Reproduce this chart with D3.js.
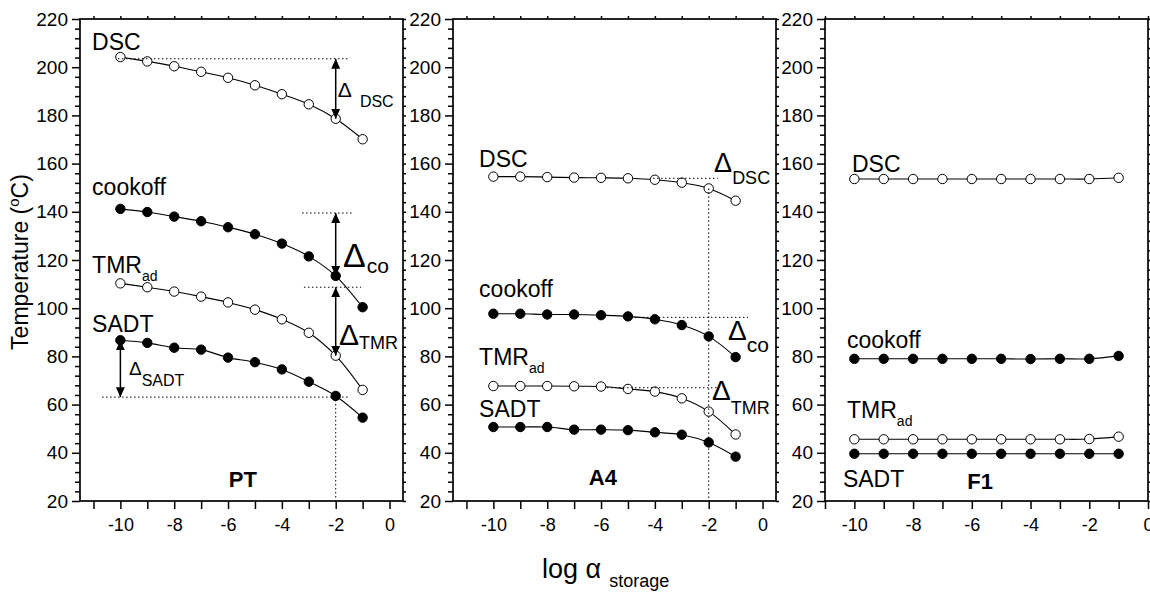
<!DOCTYPE html>
<html>
<head>
<meta charset="utf-8">
<script src="https://cdn.jsdelivr.net/npm/d3@7"></script>
<style>
  body { margin: 0; background: #fff; }
  text { font-family: "Liberation Sans", Arial, sans-serif; fill: #000; }
</style>
</head>
<body>
<script>
// ---------------- data ----------------
const xVals = [-10, -9, -8, -7, -6, -5, -4, -3, -2, -1];

const ptDSC  = [204.2, 202.4, 200.4, 198.1, 195.6, 192.5, 188.8, 184.6, 178.6, 170.1];
const ptCook = [141.2, 139.9, 138.0, 136.1, 133.6, 130.7, 126.8, 121.5, 113.4, 100.4];
const ptTMR  = [110.3, 108.7, 106.9, 104.8, 102.4, 99.4, 95.4, 89.8, 80.3, 66.1];
const ptSADT = [86.7, 85.6, 83.6, 82.8, 79.5, 77.6, 74.6, 69.5, 63.6, 54.6];

const a4DSC  = [154.6, 154.6, 154.4, 154.2, 154.1, 153.9, 153.3, 152.1, 149.7, 144.6];
const a4Cook = [97.7, 97.7, 97.4, 97.4, 97.1, 96.6, 95.4, 93.0, 88.3, 79.7];
const a4TMR  = [67.7, 67.7, 67.7, 67.6, 67.5, 66.5, 65.4, 62.6, 57.1, 47.6];
const a4SADT = [50.7, 50.7, 50.7, 49.6, 49.6, 49.4, 48.5, 47.5, 44.3, 38.4];

const f1DSC  = [153.6, 153.6, 153.6, 153.6, 153.6, 153.6, 153.6, 153.6, 153.6, 154.1];
const f1Cook = [79.0, 79.0, 79.0, 79.0, 79.0, 79.0, 78.9, 79.0, 79.0, 80.2];
const f1TMR  = [45.6, 45.6, 45.6, 45.6, 45.6, 45.6, 45.6, 45.6, 45.7, 46.7];
const f1SADT = [39.6, 39.6, 39.6, 39.6, 39.6, 39.6, 39.6, 39.6, 39.6, 39.6];

const panelNames = ["PT", "A4", "F1"];
const yTicks = [20, 40, 60, 80, 100, 120, 140, 160, 180, 200, 220];

// ---------------- layout ----------------
const W = 1150, H = 594;
const yTop = 19, yBot = 501;
const svg = d3.select("body").append("svg").attr("width", W).attr("height", H);
const y = d3.scaleLinear().domain([20, 220]).range([yBot, yTop]);

const panels = [
  { name: panelNames[0], left: 80,  right: 403, domain: [-11.5, 0.5],
    series: [[ptDSC, false], [ptCook, true], [ptTMR, false], [ptSADT, true]] },
  { name: panelNames[1], left: 453, right: 776, domain: [-11.5, 0.5],
    series: [[a4DSC, false], [a4Cook, true], [a4TMR, false], [a4SADT, true]] },
  { name: panelNames[2], left: 825, right: 1148, domain: [-11, 0],
    series: [[f1DSC, false], [f1Cook, true], [f1TMR, false], [f1SADT, true]] }
];

const fontMain = 23;

// arrow marker
const defs = svg.append("defs");
["start", "end"].forEach(k => {
  defs.append("marker")
    .attr("id", "arr-" + k)
    .attr("viewBox", "0 0 10 10")
    .attr("refX", k === "end" ? 10 : 0).attr("refY", 5)
    .attr("markerWidth", 10).attr("markerHeight", 10)
    .attr("markerUnits", "userSpaceOnUse")
    .attr("orient", "auto")
    .append("path")
    .attr("d", k === "end" ? "M0,0.5 L10,5 L0,9.5 Z" : "M10,0.5 L0,5 L10,9.5 Z")
    .attr("fill", "#000");
});

panels.forEach((p, pi) => {
  const x = d3.scaleLinear().domain(p.domain).range([p.left, p.right]);
  p.x = x;
  const g = svg.append("g");

  // minor y ticks (left)
  const minorY = d3.range(20, 221, 4).filter(v => v % 20 !== 0);
  g.append("g").attr("transform", `translate(${p.left},0)`)
    .call(d3.axisLeft(y).tickValues(minorY).tickSize(5).tickSizeOuter(0).tickFormat(""))
    .call(a => a.select(".domain").remove());
  // major y ticks
  g.append("g").attr("class", "yax").attr("transform", `translate(${p.left},0)`)
    .call(d3.axisLeft(y).tickValues(yTicks).tickSize(8).tickSizeOuter(0).tickPadding(4).tickFormat(d => String(d)))
    .call(a => a.select(".domain").remove());
  // right border ticks
  g.append("g").attr("transform", `translate(${p.right},0)`)
    .call(d3.axisRight(y).tickValues(d3.range(20, 221, 4)).tickSize(3).tickSizeOuter(0).tickFormat(""))
    .call(a => a.select(".domain").remove());

  // bottom ticks
  const lo = Math.ceil(p.domain[0]), hi = Math.floor(p.domain[1]);
  const allX = d3.range(lo, hi + 1);
  g.append("g").attr("class", "xax").attr("transform", `translate(0,${yBot})`)
    .call(d3.axisBottom(x).tickValues(allX).tickSize(8).tickSizeOuter(0).tickPadding(9)
      .tickFormat(d => (d % 2 === 0 ? String(d) : "")))
    .call(a => a.select(".domain").remove());
  // top ticks
  g.append("g").attr("transform", `translate(0,${yTop})`)
    .call(d3.axisTop(x).tickValues(allX).tickSize(3).tickSizeOuter(0).tickFormat(""))
    .call(a => a.select(".domain").remove());

  g.selectAll(".tick line").attr("stroke", "#000").attr("stroke-width", 1.5);
  g.selectAll(".yax text").attr("font-size", 19).attr("font-family", "Liberation Sans, Arial, sans-serif");
  g.selectAll(".xax text").attr("font-size", 18).attr("font-family", "Liberation Sans, Arial, sans-serif");

  // frame
  g.append("rect").attr("x", p.left).attr("y", yTop)
    .attr("width", p.right - p.left).attr("height", yBot - yTop)
    .attr("fill", "none").attr("stroke", "#000").attr("stroke-width", 1.7);

  // series
  const line = d3.line().x((d, i) => x(xVals[i])).y(d => y(d)).curve(d3.curveCatmullRom.alpha(0.5));
  p.series.forEach(([vals, filled]) => {
    g.append("path").attr("d", line(vals)).attr("fill", "none").attr("stroke", "#000").attr("stroke-width", 1.1);
  });
  p.series.forEach(([vals, filled]) => {
    g.selectAll(null).data(vals).enter().append("circle")
      .attr("cx", (d, i) => x(xVals[i])).attr("cy", d => y(d)).attr("r", 4.7)
      .attr("fill", filled ? "#000" : "#fff").attr("stroke", "#000").attr("stroke-width", 1);
  });
});

// ---------------- annotation helpers ----------------
function dotted(p, x1, y1, x2, y2) {
  svg.append("line")
    .attr("x1", p.x(x1)).attr("y1", y(y1)).attr("x2", p.x(x2)).attr("y2", y(y2))
    .attr("stroke", "#000").attr("stroke-width", 1).attr("stroke-dasharray", "1.5,2.5");
}
function arrow(p, xv, y1, y2) {
  svg.append("line")
    .attr("x1", p.x(xv)).attr("y1", y(y1)).attr("x2", p.x(xv)).attr("y2", y(y2))
    .attr("stroke", "#000").attr("stroke-width", 1.5)
    .attr("marker-start", "url(#arr-start)").attr("marker-end", "url(#arr-end)");
}
function label(p, xv, yv, main, sub, size, subSize, dx, dy, opts) {
  opts = opts || {};
  const t = svg.append("text").attr("x", p.x(xv)).attr("y", y(yv))
    .attr("font-size", size).attr("text-anchor", opts.anchor || "start")
    .attr("font-weight", opts.bold ? "bold" : "normal");
  t.append("tspan").text(main);
  if (sub) t.append("tspan").attr("dx", dx).attr("dy", dy).attr("font-size", subSize).text(sub);
}

const P1 = panels[0], P2 = panels[1], P3 = panels[2];

// Panel PT
label(P1, -11.05, 207.1, "DSC", null, fontMain);
label(P1, -11.05, 147.0, "cookoff", null, fontMain);
label(P1, -11.05, 114.6, "TMR", "ad", fontMain, 14, 0, 8);
label(P1, -11.05, 90.2, "SADT", null, fontMain);
label(P1, -5.45, 25.8, "PT", null, 22, 0, 0, 0, { anchor: "middle", bold: true });

dotted(P1, -10.09, 203.5, -1.47, 203.5);
arrow(P1, -2, 203.5, 178.6);
label(P1, -1.92, 187.6, "\u0394", "DSC", 21, 16, 8, 10);

dotted(P1, -3.25, 139.5, -1.4, 139.5);
arrow(P1, -2, 139.5, 113.4);
label(P1, -1.73, 117.1, "\u0394", "co", 34, 21, 1, 6);

dotted(P1, -3.18, 108.7, -1.06, 108.7);
arrow(P1, -2, 108.7, 80.3);
label(P1, -1.88, 84.7, "\u0394", "TMR", 30, 18, 0, 4);

dotted(P1, -10.68, 63.1, -1.47, 63.1);
arrow(P1, -10, 86.7, 63.1);
label(P1, -9.68, 72.3, "\u0394", "SADT", 19, 16, 0, 11);

dotted(P1, -2, 63.6, -2, 20);

// Panel A4
label(P2, -10.53, 158.6, "DSC", null, fontMain);
label(P2, -10.53, 104.6, "cookoff", null, fontMain);
label(P2, -10.53, 76.4, "TMR", "ad", fontMain, 14, 0, 8);
label(P2, -10.53, 54.9, "SADT", null, fontMain);
label(P2, -5.93, 26.6, "A4", null, 22, 0, 0, 0, { anchor: "middle", bold: true });

dotted(P2, -4.07, 153.9, -1.66, 153.9);
dotted(P2, -2, 149.7, -2, 20);
label(P2, -1.8, 156.5, "\u0394", "DSC", 27, 18, 0, 12);

dotted(P2, -5.04, 96.2, -0.54, 96.2);
label(P2, -1.28, 86.8, "\u0394", "co", 28, 21, 0, 12);

dotted(P2, -5.78, 67.0, -1.69, 67.0);
label(P2, -1.88, 61.9, "\u0394", "TMR", 28, 18, 0, 14);

// Panel F1
label(P3, -10.08, 156.5, "DSC", null, fontMain);
label(P3, -10.25, 83.5, "cookoff", null, fontMain);
label(P3, -10.25, 54.4, "TMR", "ad", fontMain, 14, 0, 8);
label(P3, -10.39, 25.8, "SADT", null, fontMain);
label(P3, -5.72, 25.0, "F1", null, 22, 0, 0, 0, { anchor: "middle", bold: true });

// ---------------- axis titles ----------------
const yt = svg.append("text").attr("transform", "translate(28,262) rotate(-90)")
  .attr("text-anchor", "middle").attr("font-size", 23);
yt.append("tspan").text("Temperature (");
yt.append("tspan").attr("font-size", 15).attr("dy", -9).text("o");
yt.append("tspan").attr("dy", 9).text("C)");

const xt = svg.append("text").attr("x", 542).attr("y", 578).attr("font-size", 27);
xt.append("tspan").text("log \u03b1");
xt.append("tspan").attr("dx", 8).attr("dy", 9).attr("font-size", 18).text("storage");
</script>
</body>
</html>
